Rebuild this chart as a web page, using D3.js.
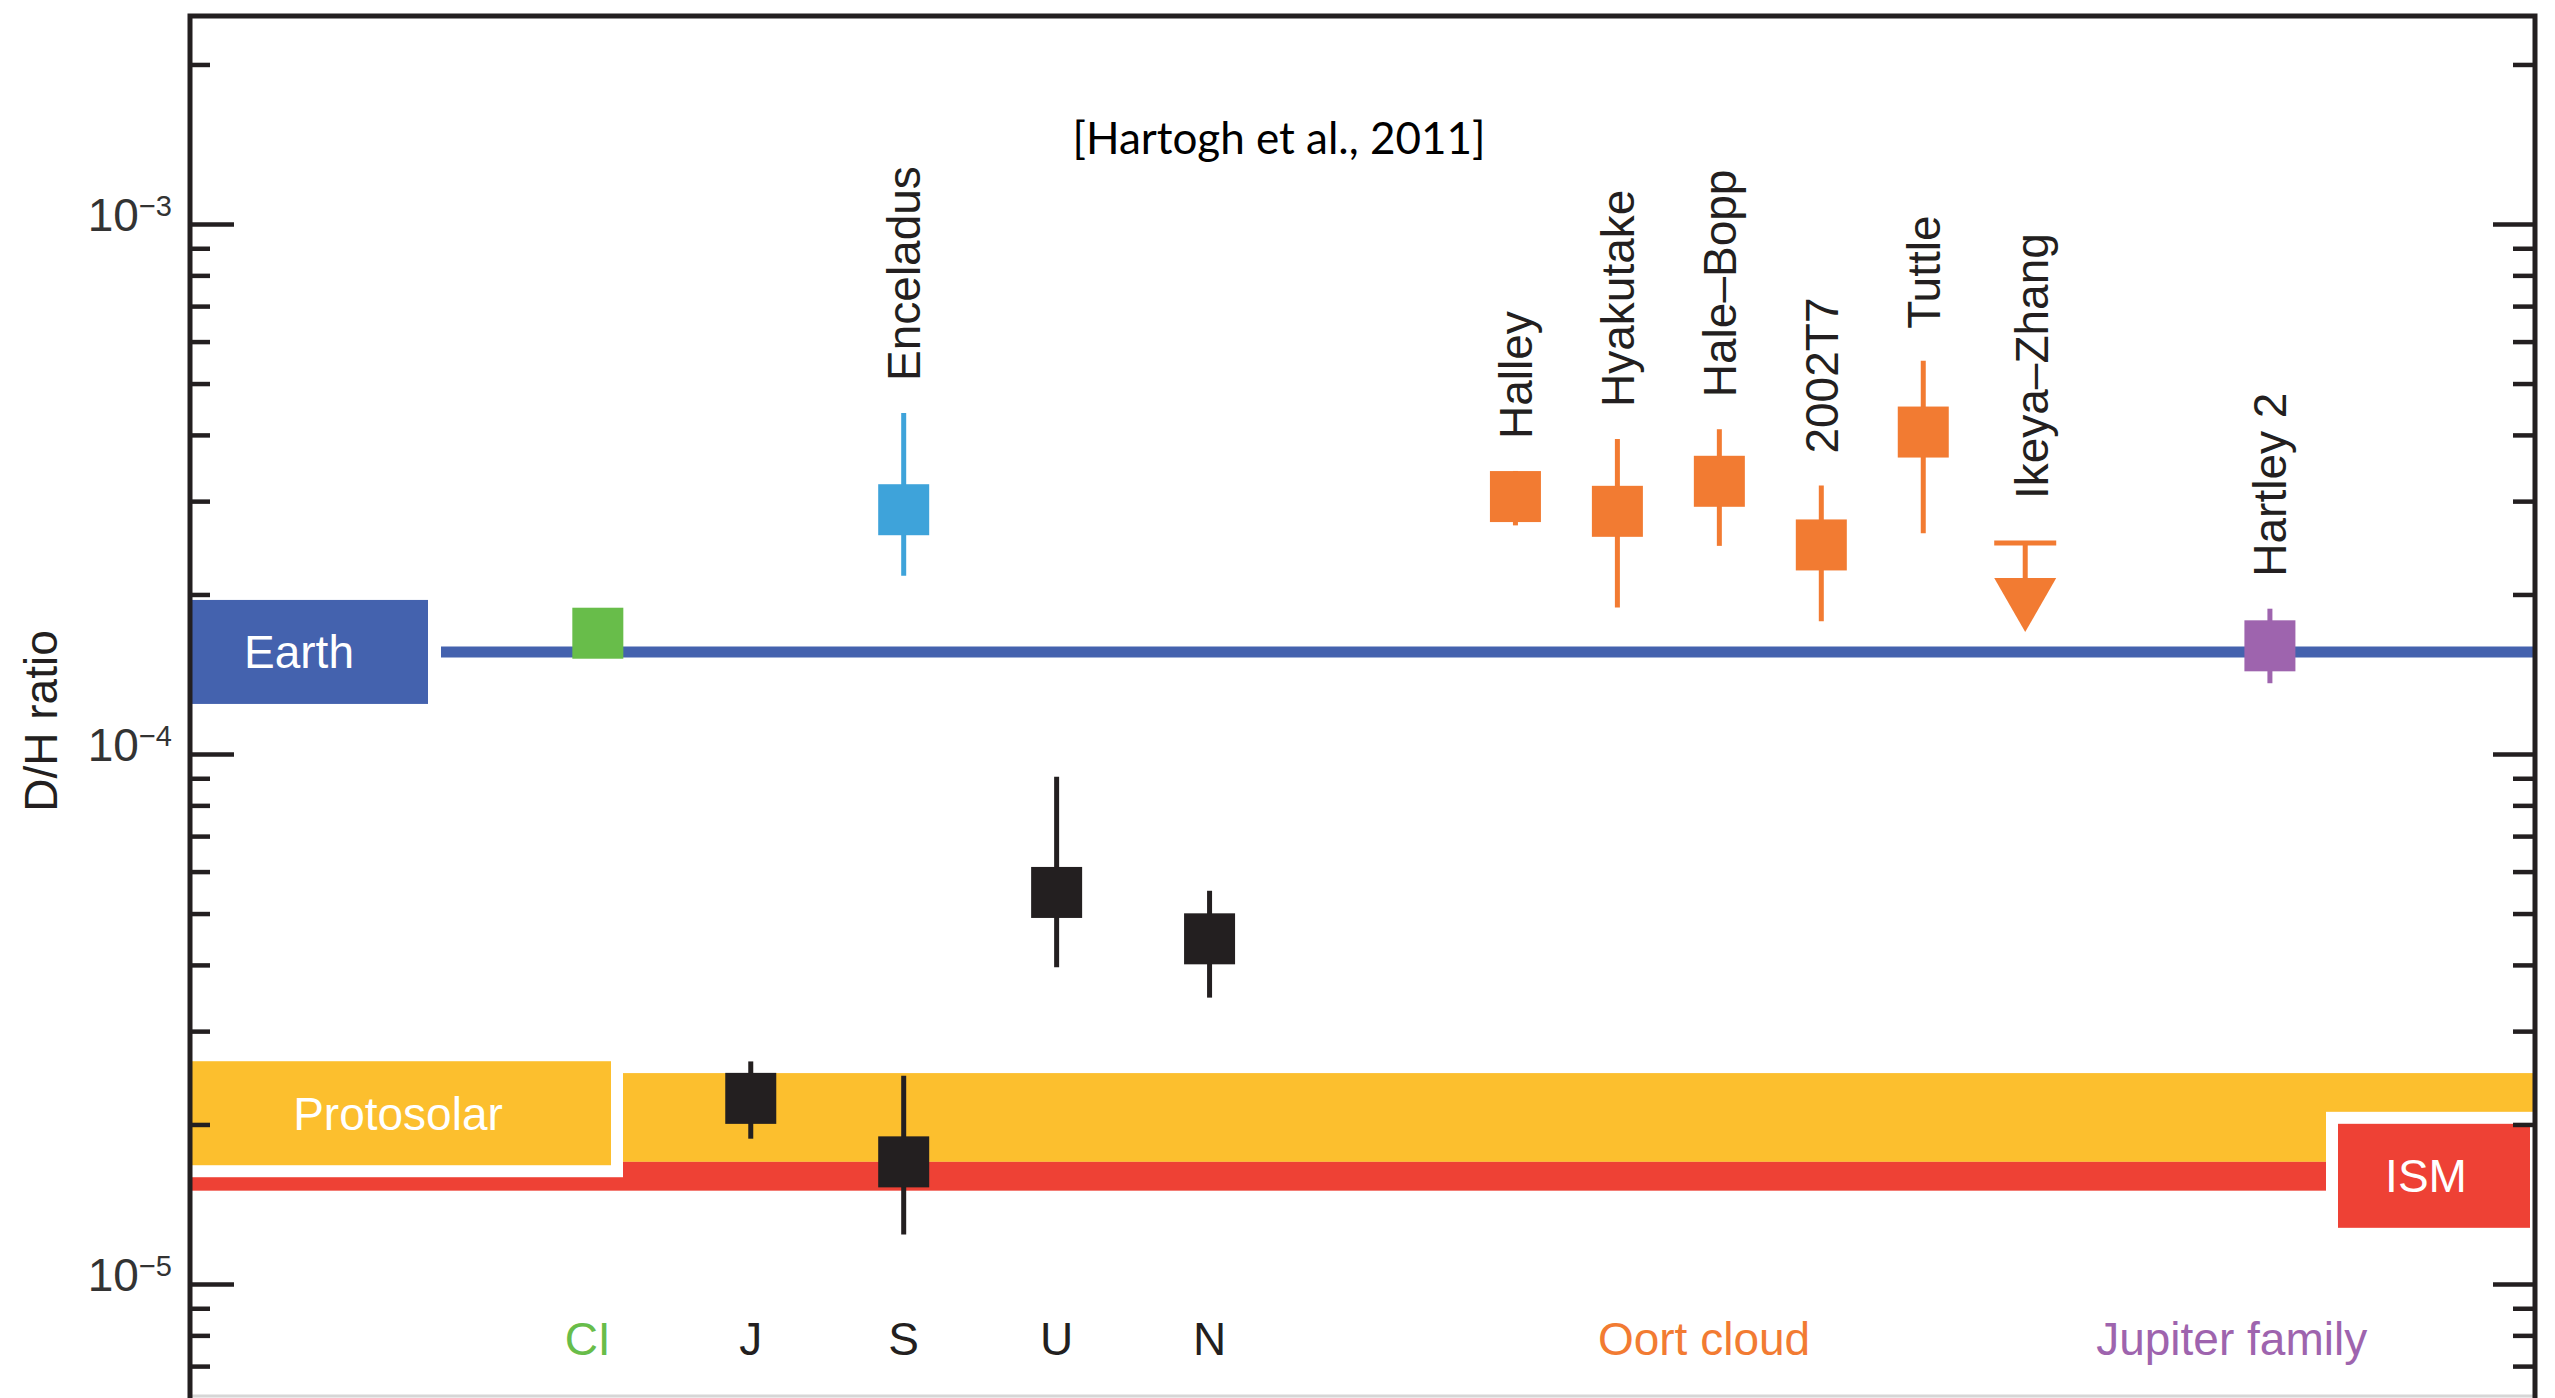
<!DOCTYPE html>
<html>
<head>
<meta charset="utf-8">
<script src="https://cdn.jsdelivr.net/npm/d3@7"></script>
<style>
  html, body { margin: 0; padding: 0; background: #ffffff; }
  svg { display: block; }
</style>
</head>
<body>
<svg id="chart" width="2555" height="1398"></svg>
<script>
// Deuterium-to-hydrogen ratio of water across the solar system.

// Giant planets (black squares)
const planetNames = ["J", "S", "U", "N"];
const planetDH    = [2.24e-5, 1.70e-5, 5.48e-5, 4.48e-5];
const planetLow   = [1.88e-5, 1.24e-5, 3.96e-5, 3.47e-5];
const planetHigh  = [2.63e-5, 2.47e-5, 9.06e-5, 5.52e-5];

// Saturn's moon
const moonNames = ["Enceladus"];
const moonDH    = [2.89e-4];
const moonLow   = [2.17e-4];
const moonHigh  = [4.40e-4];

// Oort-cloud comets with measured values
const oortNames = ["Halley", "Hyakutake", "Hale\u2013Bopp", "2002T7", "Tuttle"];
const oortDH    = [3.06e-4, 2.87e-4, 3.27e-4, 2.48e-4, 4.05e-4];
const oortLow   = [2.70e-4, 1.89e-4, 2.47e-4, 1.78e-4, 2.61e-4];
const oortHigh  = [3.42e-4, 3.93e-4, 4.10e-4, 3.21e-4, 5.52e-4];

// Oort-cloud comet with an upper limit only
const limitNames = ["Ikeya\u2013Zhang"];
const limitDH    = [2.5e-4];

// Jupiter-family comet
const jfcNames = ["Hartley 2"];
const jfcDH    = [1.60e-4];
const jfcLow   = [1.36e-4];
const jfcHigh  = [1.88e-4];

// Carbonaceous chondrites
const chondriteNames = ["CI"];
const chondriteDH    = [1.69e-4];

// Reference levels
const earthDH       = 1.558e-4;
const protosolarDH  = [1.7e-5, 2.5e-5];   // band
const protosolarMid = 2.1e-5;
const ismDH         = [1.5e-5, 1.7e-5];   // band
const ismMid        = 1.6e-5;

// Axis decades and category labels along the bottom
const majorTickLabels = [["10", "\u22125"], ["10", "\u22124"], ["10", "\u22123"]];
const bottomLabels = ["CI", "J", "S", "U", "N", "Oort cloud", "Jupiter family"];

// ---------------------------------------------------------------------------
const plotL = 190, plotR = 2535, plotT = 16, plotB = 1398;
const svg = d3.select("#chart");
const FONT = "'Liberation Sans', Arial, Helvetica, sans-serif";
const INK = "#231f20";

const colors = {
  planet: "#231f20", moon: "#3ea3da", oort: "#f27b32", jfc: "#9e64ae",
  chondrite: "#68bd4a", earth: "#4462ae", proto: "#fcbf2e", ism: "#ee4135"
};

// Log scale for D/H
const y = d3.scaleLog().domain([1e-5, 1e-3]).range([1284, 224]);
const visible = d3.scaleLog().domain([y.invert(plotB), y.invert(plotT)]);

// Column layout along x
const x = d3.scaleLinear().domain([-8, 38]).range([plotL, plotR]);
const column = {
  "CI": 0, "J": 3, "S": 6, "Enceladus": 6, "U": 9, "N": 12,
  "Halley": 18, "Hyakutake": 20, "Hale\u2013Bopp": 22, "2002T7": 24,
  "Tuttle": 26, "Ikeya\u2013Zhang": 28, "Hartley 2": 32.8,
  "Oort cloud": 21.7, "Jupiter family": 32.05
};
const labelColumn = { "CI": -0.2 };

// ---------------------------------------------------------------------------
// Bands
svg.append("rect")
  .attr("x", plotL).attr("width", plotR - plotL)
  .attr("y", y(protosolarDH[1])).attr("height", y(protosolarDH[0]) - y(protosolarDH[1]))
  .attr("fill", colors.proto);
svg.append("rect")
  .attr("x", plotL).attr("width", plotR - plotL)
  .attr("y", y(ismDH[1])).attr("height", y(ismDH[0]) - y(ismDH[1]))
  .attr("fill", colors.ism);

// Name boxes with white outlines
const boxH = 104, halo = 12;
const boxes = [
  { text: "Earth",      x0: 192,  x1: 428,  v: earthDH,       fill: colors.earth, tx: 299 },
  { text: "Protosolar", x0: 192,  x1: 611,  v: protosolarMid, fill: colors.proto, tx: 398 },
  { text: "ISM",        x0: 2338, x1: 2530, v: ismMid,        fill: colors.ism,   tx: 2426 }
];

// Earth line
svg.append("line")
  .attr("x1", boxes[0].x1 + 13).attr("x2", plotR)
  .attr("y1", y(earthDH)).attr("y2", y(earthDH))
  .attr("stroke", colors.earth).attr("stroke-width", 11);

const boxG = svg.append("g");
boxes.forEach(b => {
  const cy = y(b.v);
  boxG.append("rect")
    .attr("x", b.x0 - halo).attr("y", cy - boxH / 2 - halo)
    .attr("width", b.x1 - b.x0 + 2 * halo).attr("height", boxH + 2 * halo)
    .attr("fill", "#ffffff");
  boxG.append("rect")
    .attr("x", b.x0).attr("y", cy - boxH / 2)
    .attr("width", b.x1 - b.x0).attr("height", boxH)
    .attr("fill", b.fill);
  boxG.append("text")
    .attr("x", b.tx).attr("y", cy)
    .attr("dy", "0.36em")
    .attr("text-anchor", "middle")
    .attr("font-family", FONT).attr("font-size", 46)
    .attr("fill", "#ffffff")
    .text(b.text);
});

// ---------------------------------------------------------------------------
// Frame and axes
svg.append("line").attr("x1", plotL).attr("x2", plotR).attr("y1", plotB - 2).attr("y2", plotB - 2)
  .attr("stroke", "#d6d6d6").attr("stroke-width", 3);
svg.append("path")
  .attr("d", `M${plotL},${plotB} V${plotT} H${plotR} V${plotB}`)
  .attr("fill", "none").attr("stroke", INK).attr("stroke-width", 5);

const allTicks = visible.ticks();
const isMajor = t => Math.abs(Math.log10(t) - Math.round(Math.log10(t))) < 1e-9;
const majors = allTicks.filter(isMajor);
const minors = allTicks.filter(t => !isMajor(t));

function styleTicks(g) {
  g.select(".domain").remove();
  g.selectAll("line").attr("stroke", INK).attr("stroke-width", 4.5);
}

const leftMajor = svg.append("g").attr("transform", `translate(${plotL},0)`)
  .call(d3.axisLeft(y).tickValues(majors).tickSizeInner(-44).tickSizeOuter(0).tickPadding(18));
styleTicks(leftMajor);
leftMajor.attr("font-size", null).attr("font-family", null);
leftMajor.selectAll("text").each(function (d) {
  const idx = Math.round(Math.log10(d)) + 5;
  const lab = majorTickLabels[idx];
  const t = d3.select(this).text(null)
    .attr("font-family", FONT).attr("fill", "#333333").attr("dy", "0.4em");
  t.append("tspan").attr("font-size", 46).text(lab[0]);
  t.append("tspan").attr("font-size", 29).attr("dy", -15).text(lab[1]);
});

const leftMinor = svg.append("g").attr("transform", `translate(${plotL},0)`)
  .call(d3.axisLeft(y).tickValues(minors).tickSizeInner(-20).tickSizeOuter(0).tickFormat(""));
styleTicks(leftMinor);

const rightMajor = svg.append("g").attr("transform", `translate(${plotR},0)`)
  .call(d3.axisRight(y).tickValues(majors).tickSizeInner(-42).tickSizeOuter(0).tickFormat(""));
styleTicks(rightMajor);
const rightMinor = svg.append("g").attr("transform", `translate(${plotR},0)`)
  .call(d3.axisRight(y).tickValues(minors).tickSizeInner(-22).tickSizeOuter(0).tickFormat(""));
styleTicks(rightMinor);

// Axis title
svg.append("text")
  .attr("transform", "translate(40,721) rotate(-90)")
  .attr("dy", "0.36em")
  .attr("text-anchor", "middle")
  .attr("font-family", FONT).attr("font-size", 46).attr("fill", INK)
  .text("D/H ratio");

// Citation
svg.append("text")
  .attr("x", 1279).attr("y", 154)
  .attr("text-anchor", "middle")
  .attr("font-family", "Lato, 'Open Sans', sans-serif").attr("font-size", 44)
  .attr("fill", "#000000")
  .text("[Hartogh et al., 2011]");

// ---------------------------------------------------------------------------
// Measurements
const SQ = 51, ERR_W = 5, LABEL_GAP = 32;

function series(names, vals, lows, highs, color, labelled) {
  const data = names.map((n, i) => ({
    name: n, v: vals[i],
    lo: lows ? lows[i] : null, hi: highs ? highs[i] : null
  }));
  const g = svg.append("g");
  g.selectAll("line.err").data(data.filter(d => d.lo !== null)).join("line")
    .attr("class", "err")
    .attr("x1", d => x(column[d.name])).attr("x2", d => x(column[d.name]))
    .attr("y1", d => y(d.hi)).attr("y2", d => y(d.lo))
    .attr("stroke", color).attr("stroke-width", ERR_W);
  g.selectAll("rect").data(data).join("rect")
    .attr("x", d => x(column[d.name]) - SQ / 2)
    .attr("y", d => y(d.v) - SQ / 2)
    .attr("width", SQ).attr("height", SQ)
    .attr("fill", color);
  if (labelled) {
    g.selectAll("text").data(data).join("text")
      .attr("transform", d => `translate(${x(column[d.name])},${y(d.hi !== null ? d.hi : d.v) - LABEL_GAP}) rotate(-90)`)
      .attr("dy", "0.36em")
      .attr("font-family", FONT).attr("font-size", 46).attr("fill", INK)
      .text(d => d.name);
  }
}

series(chondriteNames, chondriteDH, null, null, colors.chondrite, false);
series(planetNames, planetDH, planetLow, planetHigh, colors.planet, false);
series(moonNames, moonDH, moonLow, moonHigh, colors.moon, true);
series(oortNames, oortDH, oortLow, oortHigh, colors.oort, true);
series(jfcNames, jfcDH, jfcLow, jfcHigh, colors.jfc, true);

// Upper limit: bar, stem and downward arrow
const limG = svg.append("g");
limitNames.forEach((n, i) => {
  const cx = x(column[n]), cy = y(limitDH[i]);
  limG.append("line").attr("x1", cx - 31).attr("x2", cx + 31).attr("y1", cy).attr("y2", cy)
    .attr("stroke", colors.oort).attr("stroke-width", 5);
  limG.append("line").attr("x1", cx).attr("x2", cx).attr("y1", cy).attr("y2", cy + 36)
    .attr("stroke", colors.oort).attr("stroke-width", 5);
  limG.append("path")
    .attr("d", `M${cx - 31},${cy + 35} L${cx + 31},${cy + 35} L${cx},${cy + 89} Z`)
    .attr("fill", colors.oort);
  limG.append("text")
    .attr("transform", `translate(${cx + 6},${cy - 44}) rotate(-90)`)
    .attr("dy", "0.36em")
    .attr("font-family", FONT).attr("font-size", 46).attr("fill", INK)
    .text(n);
});

// Category labels along the bottom
const bottomColor = {
  "CI": colors.chondrite, "Oort cloud": colors.oort, "Jupiter family": colors.jfc
};
svg.append("g").selectAll("text").data(bottomLabels).join("text")
  .attr("x", d => x(labelColumn[d] !== undefined ? labelColumn[d] : column[d]))
  .attr("y", 1355)
  .attr("text-anchor", "middle")
  .attr("font-family", FONT).attr("font-size", 46)
  .attr("fill", d => bottomColor[d] || INK)
  .text(d => d);
</script>
</body>
</html>
